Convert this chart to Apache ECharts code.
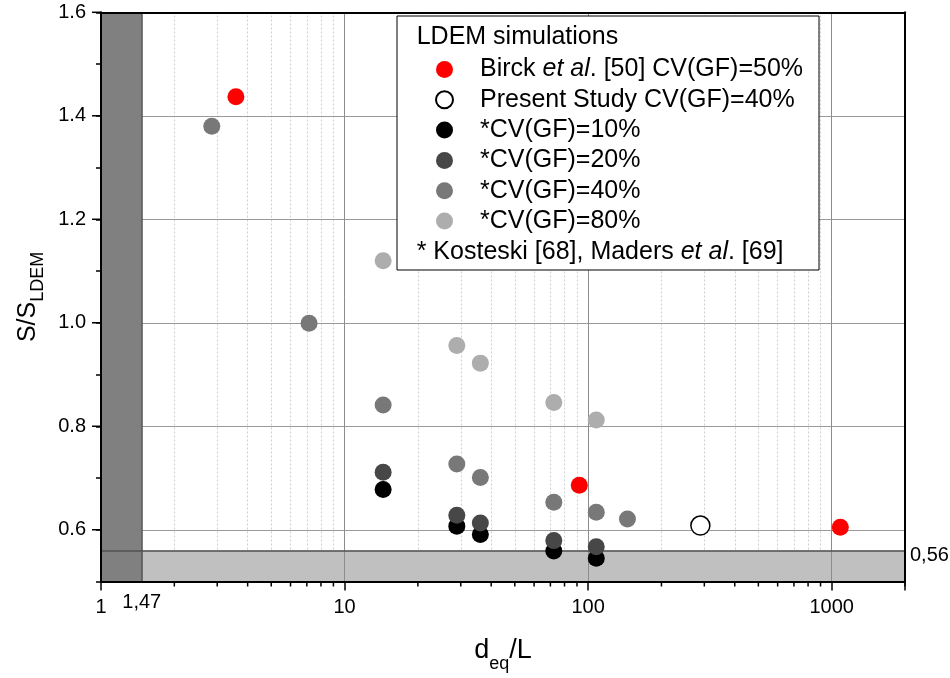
<!DOCTYPE html>
<html>
<head>
<meta charset="utf-8">
<script src="https://cdn.jsdelivr.net/npm/echarts@6/dist/echarts.min.js"></script>
<style>
  html, body { margin: 0; padding: 0; background: #fff; }
  #myChart { width: 950px; height: 678px; }
</style>
</head>
<body>
<div id="myChart"></div>
<script>
  var FONT = 'Liberation Sans, Arial, Helvetica, sans-serif';

  // data (x = d_eq/L, y = s/s_LDEM)
  var birckX = [3.58, 92, 1085];
  var birckY = [1.437, 0.686, 0.605];
  var presentX = [289];
  var presentY = [0.608];
  var cv10X = [14.4, 28.9, 36.1, 72.3, 108];
  var cv10Y = [0.678, 0.607, 0.591, 0.559, 0.545];
  var cv20X = [14.4, 28.9, 36.1, 72.3, 108];
  var cv20Y = [0.711, 0.628, 0.613, 0.579, 0.567];
  var cv40X = [2.85, 7.15, 14.4, 28.9, 36.1, 72.3, 108, 145];
  var cv40Y = [1.380, 0.999, 0.841, 0.727, 0.701, 0.653, 0.634, 0.621];
  var cv80X = [14.4, 28.9, 36.1, 72.3, 108];
  var cv80Y = [1.120, 0.956, 0.922, 0.846, 0.812];

  var seriesNames = [
    'Birck et al. [50] CV(GF)=50%',
    'Present Study CV(GF)=40%',
    '*CV(GF)=10%',
    '*CV(GF)=20%',
    '*CV(GF)=40%',
    '*CV(GF)=80%'
  ];

  // axes / reference lines
  var xMajor = [10, 100, 1000];
  var xMinor = [2, 3, 4, 5, 6, 7, 8, 9, 20, 30, 40, 50, 60, 70, 80, 90,
                200, 300, 400, 500, 600, 700, 800, 900];
  var yMajor = [0.6, 0.8, 1.0, 1.2, 1.4];
  var yMajorTicks = [0.6, 0.8, 1.0, 1.2, 1.4, 1.6];
  var limitX = 1.47;
  var limitY = 0.56;
  var limitXLabel = '1,47';
  var limitYLabel = '0,56';

  function zip(xs, ys) {
    return xs.map(function (x, i) { return [x, ys[i]]; });
  }

  var myChart = echarts.init(document.getElementById('myChart'));

  var lbl = { fontFamily: FONT, fontSize: 20, color: '#000' };

  var option = {
    animation: false,
    backgroundColor: '#fff',
    textStyle: { fontFamily: FONT },
    grid: { left: 101, top: 12.3, right: 45, bottom: 96.5, outerBoundsMode: 'none', containLabel: false },
    legend: {
      data: seriesNames,
      selectedMode: false,
      orient: 'vertical',
      left: 397,
      top: 16,
      itemWidth: 17,
      itemHeight: 17,
      itemGap: 5.3,
      padding: [41, 16, 36.5, 38],
      backgroundColor: '#fff',
      borderColor: '#000',
      borderWidth: 1,
      z: 30,
      textStyle: {
        fontFamily: FONT, fontSize: 25, color: '#000',
        padding: [0, 0, 0, 22],
        rich: {
          i: { fontFamily: FONT, fontSize: 25, fontStyle: 'italic', color: '#000' }
        }
      },
      formatter: function (name) {
        if (name.indexOf('et al') >= 0) {
          var p = name.split('et al');
          return p[0] + '{i|et al}' + p[1];
        }
        return name;
      }
    },
    xAxis: [{
      type: 'log',
      logBase: 10,
      min: 1,
      max: 2000,
      position: 'bottom',
      z: 20,
      name: '{m|d}{s|eq}{m|/L}',
      nameLocation: 'middle',
      nameGap: 56,
      nameTextStyle: {
        rich: {
          m: { fontFamily: FONT, fontSize: 27, color: '#000', lineHeight: 27 },
          s: { fontFamily: FONT, fontSize: 18, color: '#000', lineHeight: 18, padding: [26, 0, 0, 0] }
        }
      },
      axisLine: { lineStyle: { color: '#000', width: 2 } },
      axisTick: { show: true, inside: false, length: 9, lineStyle: { color: '#000', width: 1.5 } },
      axisLabel: Object.assign({
        margin: 16,
        formatter: function (v) {
          var l = Math.log10(v);
          return (Math.abs(l - Math.round(l)) < 1e-6 && v < 1500) ? String(Math.round(v)) : '';
        }
      }, lbl),
      splitLine: { show: false },
      minorTick: { show: false },
      minorSplitLine: { show: false }
    }, {
      type: 'log',
      logBase: 10,
      min: 1,
      max: 2000,
      position: 'top',
      z: 20,
      axisLine: { lineStyle: { color: '#000', width: 2 } },
      axisTick: { show: false },
      axisLabel: { show: false },
      splitLine: { show: false }
    }],
    yAxis: [{
      type: 'value',
      min: 0.5,
      max: 1.6,
      interval: 0.1,
      position: 'left',
      z: 20,
      name: '{m|S/S}{s|LDEM}',
      nameLocation: 'middle',
      nameRotate: 90,
      nameGap: 51,
      nameTextStyle: {
        rich: {
          m: { fontFamily: FONT, fontSize: 25, color: '#000', lineHeight: 25 },
          s: { fontFamily: FONT, fontSize: 18, color: '#000', lineHeight: 18, padding: [21, 0, 0, 0] }
        }
      },
      axisLine: { show: true, lineStyle: { color: '#000', width: 2 } },
      axisTick: { show: true, inside: false, length: 5, lineStyle: { color: '#000', width: 1.5 } },
      axisLabel: Object.assign({
        margin: 15,
        formatter: function (v) {
          var t = Math.round(v * 10);
          return (t % 2 === 0 && t >= 6) ? (t / 10).toFixed(1) : '';
        }
      }, lbl),
      splitLine: { show: false }
    }, {
      type: 'value',
      min: 0.5,
      max: 1.6,
      interval: 0.1,
      position: 'right',
      z: 20,
      axisLine: { show: true, lineStyle: { color: '#000', width: 2 } },
      axisTick: { show: false },
      axisLabel: { show: false },
      splitLine: { show: false }
    }],
    series: [
      // minor vertical grid (dotted) and horizontal major grid
      {
        name: 'gridMinor', type: 'line', data: [], silent: true,
        markLine: {
          z: 1, silent: true, symbol: ['none', 'none'], label: { show: false },
          lineStyle: { color: '#cfcfcf', type: [2, 2], width: 1 },
          data: xMinor.map(function (v) { return { xAxis: v }; })
        }
      },
      {
        name: 'gridH', type: 'line', data: [], silent: true,
        markLine: {
          z: 1, silent: true, symbol: ['none', 'none'], label: { show: false },
          lineStyle: { color: '#9a9a9a', type: 'solid', width: 1 },
          data: yMajor.map(function (v) { return { yAxis: v }; })
        }
      },
      // shaded zones
      {
        name: 'bandY', type: 'line', data: [], silent: true,
        markArea: {
          z: 2, silent: true,
          itemStyle: { color: '#c0c0c0', opacity: 1 },
          data: [[{ yAxis: 0.5 }, { yAxis: limitY }]]
        }
      },
      {
        name: 'bandX', type: 'line', data: [], silent: true,
        markArea: {
          z: 3, silent: true,
          itemStyle: { color: '#808080', opacity: 1 },
          data: [[{ xAxis: 1 }, { xAxis: limitX }]]
        }
      },
      {
        name: 'gridV', type: 'line', data: [], silent: true,
        markLine: {
          z: 4, silent: true, symbol: ['none', 'none'], label: { show: false },
          lineStyle: { color: '#8c8c8c', type: 'solid', width: 1 },
          data: xMajor.map(function (v) { return { xAxis: v }; })
        }
      },
      {
        name: 'limits', type: 'line', data: [], silent: true,
        markLine: {
          z: 5, silent: true, symbol: ['none', 'none'], label: { show: false },
          lineStyle: { color: '#505050', type: 'solid', width: 1.5 },
          data: [{ xAxis: limitX }, { yAxis: limitY }]
        }
      },
      // data
      {
        name: seriesNames[2], type: 'scatter', z: 10, symbol: 'circle', symbolSize: 17,
        itemStyle: { color: '#000000', opacity: 1 }, data: zip(cv10X, cv10Y)
      },
      {
        name: seriesNames[3], type: 'scatter', z: 10, symbol: 'circle', symbolSize: 17,
        itemStyle: { color: '#474747', opacity: 1 }, data: zip(cv20X, cv20Y)
      },
      {
        name: seriesNames[4], type: 'scatter', z: 10, symbol: 'circle', symbolSize: 17,
        itemStyle: { color: '#787878', opacity: 1 }, data: zip(cv40X, cv40Y)
      },
      {
        name: seriesNames[5], type: 'scatter', z: 10, symbol: 'circle', symbolSize: 17,
        itemStyle: { color: '#adadad', opacity: 1 }, data: zip(cv80X, cv80Y)
      },
      {
        name: seriesNames[0], type: 'scatter', z: 10, symbol: 'circle', symbolSize: 17,
        itemStyle: { color: '#ff0000', opacity: 1 }, data: zip(birckX, birckY)
      },
      {
        name: seriesNames[1], type: 'scatter', z: 10, symbol: 'circle', symbolSize: 19,
        itemStyle: { color: '#ffffff', borderColor: '#000', borderWidth: 1.5, opacity: 1 },
        data: zip(presentX, presentY)
      }
    ]
  };

  myChart.setOption(option);

  // extra ticks, limit labels and legend header/footer placed through the axes
  function px(v) { return myChart.convertToPixel({ xAxisIndex: 0 }, v); }
  function py(v) { return myChart.convertToPixel({ yAxisIndex: 0 }, v); }

  var x0 = px(1), x1 = px(2000), yb = py(0.5);
  var g = [];
  xMinor.concat([2000]).forEach(function (v) {
    var x = px(v);
    g.push({ type: 'line', z: 50, shape: { x1: x, y1: yb, x2: x, y2: yb + 5 },
             style: { stroke: '#000', lineWidth: 1.5 } });
  });
  yMajorTicks.forEach(function (v) {
    var y = py(v);
    g.push({ type: 'line', z: 50, shape: { x1: x0 - 9, y1: y, x2: x0, y2: y },
             style: { stroke: '#000', lineWidth: 1.5 } });
  });
  g.push({ type: 'text', z: 50, x: px(limitX), y: yb + 21,
           style: { text: limitXLabel, fontFamily: FONT, fontSize: 20, fill: '#000',
                    align: 'center', verticalAlign: 'middle' } });
  g.push({ type: 'text', z: 50, x: x1 + 5, y: py(limitY) + 5,
           style: { text: limitYLabel, fontFamily: FONT, fontSize: 20, fill: '#000',
                    align: 'left', verticalAlign: 'middle' } });
  g.push({ type: 'text', z: 60, x: 416.7, y: 37,
           style: { text: 'LDEM simulations', fontFamily: FONT, fontSize: 25, fill: '#000',
                    align: 'left', verticalAlign: 'middle' } });
  g.push({ type: 'text', z: 60, x: 416.7, y: 252,
           style: { text: '* Kosteski [68], Maders {i|et al}. [69]', fontFamily: FONT, fontSize: 25,
                    fill: '#000', align: 'left', verticalAlign: 'middle',
                    rich: { i: { fontFamily: FONT, fontSize: 25, fontStyle: 'italic', fill: '#000' } } } });

  myChart.setOption({ graphic: g });
</script>
</body>
</html>
